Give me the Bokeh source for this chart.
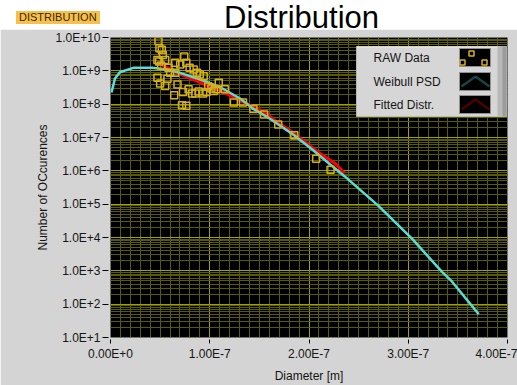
from bokeh.plotting import figure
from bokeh.models import (Range1d, FixedTicker, CustomJSTickFormatter, BoxAnnotation,
                          PolyAnnotation, Label, Div)
from bokeh.layouts import column
from bokeh.embed import file_html
from bokeh.resources import INLINE

# ---------------- data ----------------
title_text = "Distribution"
tag_text = "DISTRIBUTION"
x_label = "Diameter [m]"
y_label = "Number of OCcurences"
legend_labels = ["RAW Data", "Weibull PSD", "Fitted Distr."]

x_tick_values = [0.0, 1e-7, 2e-7, 3e-7, 4e-7]
x_tick_labels = ["0.00E+0", "1.00E-7", "2.00E-7", "3.00E-7", "4.00E-7"]
y_tick_values = [1e1, 1e2, 1e3, 1e4, 1e5, 1e6, 1e7, 1e8, 1e9, 1e10]
y_tick_labels = ["1.0E+1", "1.0E+2", "1.0E+3", "1.0E+4", "1.0E+5",
                 "1.0E+6", "1.0E+7", "1.0E+8", "1.0E+9", "1.0E+10"]

weibull_x = [0.01e-7, 0.044e-7, 0.094e-7, 0.23e-7, 0.42e-7, 0.57e-7, 0.70e-7, 0.906e-7,
             1.11e-7, 1.31e-7, 1.44e-7, 1.58e-7, 1.68e-7, 1.85e-7, 2.02e-7, 2.36e-7,
             2.70e-7, 3.04e-7, 3.34e-7, 3.44e-7, 3.71e-7]
weibull_y = [2.24e8, 5.75e8, 9.1e8, 1.23e9, 1.23e9, 1.10e9, 8.7e8, 5.5e8,
             3.16e8, 1.45e8, 7.2e7, 4.1e7, 2.6e7, 1.17e7, 4.7e6, 6.8e5,
             8.9e4, 9.1e3, 930, 480, 50]

fitted_x = [0.48e-7, 0.67e-7, 0.87e-7, 1.11e-7, 1.38e-7, 1.55e-7, 1.68e-7, 1.85e-7,
            2.09e-7, 2.26e-7, 2.36e-7]
fitted_y = [1.74e9, 8.7e8, 4.9e8, 2.5e8, 1.0e8, 5.8e7, 2.9e7, 1.32e7,
            3.7e6, 1.7e6, 8.5e5]

raw_x = [0.483e-7, 0.493e-7, 0.517e-7, 0.527e-7, 0.473e-7, 0.490e-7, 0.551e-7, 0.510e-7,
         0.584e-7, 0.652e-7, 0.703e-7, 0.743e-7, 0.764e-7, 0.797e-7, 0.838e-7, 0.872e-7,
         0.899e-7, 0.939e-7, 0.473e-7, 0.500e-7, 0.551e-7, 0.574e-7, 0.601e-7, 0.652e-7,
         0.675e-7, 0.642e-7, 0.720e-7, 0.764e-7, 0.730e-7, 0.787e-7, 0.821e-7, 0.855e-7,
         0.888e-7, 0.933e-7, 0.967e-7, 0.984e-7, 1.017e-7, 1.041e-7, 1.068e-7, 1.091e-7,
         1.152e-7, 1.243e-7, 1.335e-7, 1.440e-7, 1.548e-7, 1.690e-7, 1.852e-7, 2.072e-7,
         2.217e-7]
raw_y = [7.9e9, 4.8e9, 4.3e9, 3.0e9, 2.1e9, 1.9e9, 2.1e9, 1.45e9,
         1.23e9, 1.74e9, 1.55e9, 2.7e9, 1.74e9, 1.23e9, 1.1e9, 8.7e8,
         7.8e8, 6.9e8, 6.2e8, 4.2e8, 3.5e8, 5.8e8, 8.7e8, 8.7e8,
         3.9e8, 1.86e8, 9.3e7, 8.9e7, 2.3e8, 2.8e8, 2.1e8, 2.1e8,
         2.4e8, 2.1e8, 2.3e8, 3.4e8, 2.95e8, 2.5e8, 2.8e8, 4.4e8,
         2.8e8, 1.12e8, 1.12e8, 7.2e7, 4.9e7, 2.45e7, 1.17e7, 2.3e6,
         1.07e6]

# ---------------- styles ----------------
PANEL = "#d4d4d4"
MAJOR_GRID = "#a0a000"
MINOR_GRID = "#5a5a00"
CYAN = "#55dde0"
RED = "#ff0000"
GOLD = "#d4b020"
FONT = "Liberation Sans"
HEADER_H = 29
TOP_SHIFT = 2  # canvas offset relative to a header of 27px

p = figure(width=517, height=385 - HEADER_H, x_range=Range1d(0, 4e-7), y_range=Range1d(10, 1e10),
           y_axis_type="log", output_backend="svg", toolbar_location=None,
           min_border_left=110, min_border_right=10, min_border_top=8, min_border_bottom=44,
           background_fill_color="black", border_fill_color=PANEL, outline_line_color=None)

p.xaxis.ticker = FixedTicker(ticks=x_tick_values,
                             minor_ticks=[i * 1e-8 for i in range(41)])
p.yaxis.ticker = FixedTicker(ticks=y_tick_values,
                             minor_ticks=[m * 10 ** k for k in range(1, 10) for m in range(2, 10)])

fmt_code = """
for (let i = 0; i < vals.length; i++) {
  if (Math.abs(tick - vals[i]) <= 1e-6 * Math.abs(vals[i]) + 1e-20) return labs[i];
}
return '';
"""
p.xaxis.formatter = CustomJSTickFormatter(args=dict(vals=x_tick_values, labs=x_tick_labels), code=fmt_code)
p.yaxis.formatter = CustomJSTickFormatter(args=dict(vals=y_tick_values, labs=y_tick_labels), code=fmt_code)

for ax in (p.xaxis, p.yaxis):
    ax.axis_line_color = None
    ax.major_tick_line_color = "black"
    ax.minor_tick_out = 0
    ax.minor_tick_in = 0
    ax.major_label_text_font = FONT
    ax.major_label_text_font_size = "12px"
    ax.major_label_text_color = "#151515"
    ax.axis_label_text_font = FONT
    ax.axis_label_text_font_size = "12px"
    ax.axis_label_text_font_style = "normal"
    ax.axis_label_text_color = "#151515"

p.yaxis.major_tick_in = -2
p.yaxis.major_tick_out = 8
p.yaxis.major_label_standoff = 2
p.yaxis.axis_label_standoff = 2
p.xaxis.major_tick_in = -2
p.xaxis.major_tick_out = 6
p.xaxis.major_label_standoff = 3
p.xaxis.axis_label_standoff = 5

p.xaxis.axis_label = x_label
p.yaxis.axis_label = y_label

for g in (p.xgrid, p.ygrid):
    g.grid_line_color = MAJOR_GRID
    g.grid_line_width = 1
    g.minor_grid_line_color = MINOR_GRID
    g.minor_grid_line_width = 1

p.line(fitted_x, fitted_y, line_color=RED, line_width=3)
p.line(weibull_x, weibull_y, line_color=CYAN, line_width=2.5)
p.scatter(raw_x, raw_y, marker="square", size=7, fill_color=None,
          line_color=GOLD, line_width=1.5)

# ---------------- legend panel (canvas px) ----------------
def box(l, r, t, b, fill=None, line=None, lw=1):
    return BoxAnnotation(left=l, right=r, top=t - TOP_SHIFT, bottom=b - TOP_SHIFT,
                         left_units="canvas", right_units="canvas",
                         top_units="canvas", bottom_units="canvas",
                         fill_color=fill if fill else "white", fill_alpha=1 if fill else 0,
                         line_color=line, line_width=lw, line_alpha=1 if line else 0)

p.add_layout(box(356, 506, 19, 89, fill="#d6d6d6", line="#b8b8b8"))
p.add_layout(box(497, 506, 19, 89, fill="#b8b8b8"))
p.add_layout(box(502, 506, 19, 89, fill="#9c9c9c"))
p.add_layout(box(356, 497, 19, 20, fill="#ececec"))

swatch_tops = [21, 45, 68]
for t in swatch_tops:
    p.add_layout(box(459, 490, t, t + 18, fill="black", line="#909090"))

for (cx, cy) in [(462, 35), (471, 26), (484, 35)]:
    p.add_layout(box(cx - 2.5, cx + 2.5, cy - 2.5, cy + 2.5, line=GOLD, lw=1.5))

def seg(x0, y0, x1, y1, color):
    return PolyAnnotation(xs=[x0, x1], ys=[y0 - TOP_SHIFT, y1 - TOP_SHIFT],
                          xs_units="canvas", ys_units="canvas",
                          fill_alpha=0, line_color=color, line_width=2.5)

for (t, color) in [(45, CYAN), (68, RED)]:
    p.add_layout(seg(461, t + 14, 475, t + 4, color))
    p.add_layout(seg(475, t + 4, 489, t + 14, color))

for lab, cy in zip(legend_labels, [30, 54, 77]):
    p.add_layout(Label(x=373, y=cy - TOP_SHIFT, x_units="canvas", y_units="canvas", text=lab,
                       text_font=FONT, text_font_size="12px", text_baseline="middle",
                       text_color="#151515"))

# ---------------- header ----------------
header_html = (
    '<div style="position:relative;width:517px;height:%dpx;overflow:visible;background:white;">'
    '<span style="position:absolute;left:16px;top:11px;height:13px;padding:0 3px;'
    'background:#f7c04a;color:#3a2a00;font-family:\'Liberation Sans\';font-size:11px;'
    'line-height:13px;white-space:nowrap;">%s</span>'
    '<span style="position:absolute;left:224px;top:0px;color:black;'
    'font-family:\'Liberation Sans\';font-size:31px;line-height:35px;white-space:nowrap;">'
    '%s</span></div>'
) % (HEADER_H, tag_text, title_text)
header = Div(text=header_html, width=517, height=HEADER_H, margin=0, styles={"overflow": "visible"})

layout = column(header, p, spacing=0)
open("out.html", "w").write(file_html(layout, INLINE))
